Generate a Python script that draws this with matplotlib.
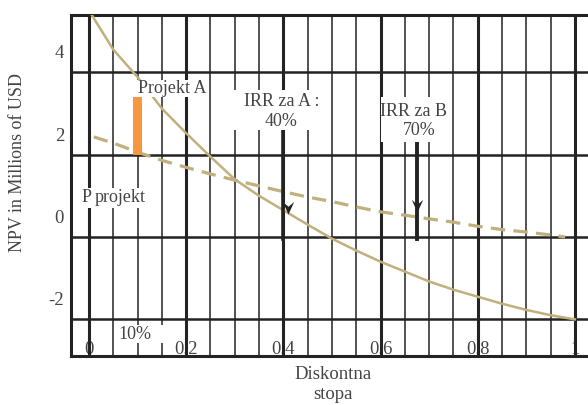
import numpy as np
import matplotlib
matplotlib.use("Agg")
import matplotlib.pyplot as plt
from matplotlib.patches import Rectangle
from matplotlib.path import Path

# Discount rate grid and NPV profiles (millions of USD)
rates = [0.0, 0.05, 0.10, 0.15, 0.20, 0.25, 0.30, 0.35, 0.40, 0.45, 0.50,
         0.55, 0.60, 0.65, 0.70, 0.75, 0.80, 0.85, 0.90, 0.95, 1.0]
npv_a = [5.0, 4.05, 3.38, 2.62, 2.02, 1.45, 0.90, 0.50, 0.15, -0.20, -0.54,
         -0.83, -1.10, -1.34, -1.58, -1.78, -1.95, -2.12, -2.27, -2.40, -2.50]
rates_b = [0.01, 0.05, 0.10, 0.15, 0.20, 0.25, 0.30, 0.35, 0.40, 0.45, 0.50,
           0.55, 0.60, 0.65, 0.70, 0.75, 0.80, 0.85, 0.90, 0.95, 0.98]
npv_b = [1.93, 1.78, 1.56, 1.36, 1.19, 1.03, 0.88, 0.74, 0.60, 0.47, 0.36,
         0.23, 0.11, 0.03, -0.06, -0.14, -0.24, -0.32, -0.38, -0.45, -0.50]

# Marker at 10% discount rate
bar_rate = 0.10
bar_low, bar_high = 1.5, 2.9

# IRR markers: (rate, NPV where the arrow tip sits)
irr_a = 0.40
irr_a_tip = 0.06
irr_b = 0.675
irr_b_tip = 0.10

x_ticks = [0, 0.2, 0.4, 0.6, 0.8, 1]
x_tick_labels = ["0", "0.2", "0.4", "0.6", "0.8", "1"]
y_ticks = [4, 2, 0, -2]
y_tick_labels = ["4", "2", "0", "-2"]

SERIF = ["Liberation Serif", "DejaVu Serif"]
TEXT = "#444444"
GRID = "#232323"
CURVE = "#bfb07e"
ORANGE = "#f59640"
FS = 13

plt.rcParams["font.family"] = SERIF

fig = plt.figure(figsize=(5.88, 4.05), dpi=100)
ax = fig.add_axes([71 / 588, 49 / 405, 517 / 588, 341 / 405])
ax.set_xlim(-0.037, 1.027)
ax.set_ylim(-3.39, 4.89)

# Frame: left, top and bottom only
for side in ("left", "top", "bottom"):
    ax.spines[side].set_linewidth(2.2)
    ax.spines[side].set_color(GRID)
ax.spines["right"].set_visible(False)

# Grid: vertical lines every 0.05, heavier every 0.2; horizontal between ticks
for i in range(21):
    xv = i * 0.05
    heavy = i % 4 == 0
    ax.axvline(xv, color=GRID, lw=2.2 if heavy else 1.1, zorder=2)
for yh in (3.5, 1.5, -0.5, -2.5):
    ax.axhline(yh, color=GRID, lw=1.8, zorder=2)

# Ticks
ax.set_axisbelow(True)
ax.set_xticks(x_ticks, x_tick_labels)
ax.set_yticks(y_ticks, y_tick_labels)
ax.tick_params(axis="x", length=0, pad=-11, labelsize=FS + 0.5, labelcolor=TEXT)
ax.tick_params(axis="y", length=0, pad=5, labelsize=FS + 0.5, labelcolor=TEXT)

# NPV profiles
ax.plot(rates, npv_a, color=CURVE, lw=1.8, zorder=3)
ax.plot(rates_b, npv_b, color=CURVE, lw=2.3, ls=(0, (4.5, 2.6)), zorder=3)

# Orange bar at the 10% rate
ax.bar([bar_rate], [bar_high - bar_low], bottom=bar_low, width=0.018,
       color=ORANGE, zorder=4)

# IRR arrows
arrow = Path([(0, 0), (-0.45, 1.0), (0, 0.62), (0.45, 1.0), (0, 0)],
             [Path.MOVETO, Path.LINETO, Path.LINETO, Path.LINETO, Path.CLOSEPOLY])
ax.plot([irr_a, irr_a], [-0.55, 2.1], color=GRID, lw=2.6, zorder=5)
ax.plot([irr_a + 0.009], [irr_a_tip], marker=arrow, ms=18, color=GRID,
        mew=0, ls="none", zorder=6)
ax.plot([irr_b, irr_b], [-0.55, 1.81], color=GRID, lw=2.8, zorder=5)
ax.plot([irr_b], [irr_b_tip], marker=arrow, ms=18, color=GRID,
        mew=0, ls="none", zorder=6)


def box(x0, x1, y0, y1):
    ax.add_patch(Rectangle((x0, y0), x1 - x0, y1 - y0, facecolor="white",
                           edgecolor="none", zorder=7))


# Label boxes
box(0.093, 0.243, 2.90, 3.32)
ax.text(0.101, 3.10, "Projekt A", fontsize=FS, color=TEXT, ha="left",
        va="center", zorder=8)

box(0.296, 0.486, 2.10, 3.07)
ax.text(0.396, 2.80, "IRR za A :", fontsize=FS, color=TEXT, ha="center",
        va="center", zorder=8)
ax.text(0.396, 2.31, "40%", fontsize=FS, color=TEXT, ha="center",
        va="center", zorder=8)

box(0.602, 0.746, 1.81, 2.90)
ax.text(0.667, 2.55, "IRR za B", fontsize=FS, color=TEXT, ha="center",
        va="center", zorder=8)
ax.text(0.680, 2.08, "70%", fontsize=FS, color=TEXT, ha="center",
        va="center", zorder=8)

box(-0.023, 0.008, 0.21, 0.69)
ax.text(-0.016, 0.45, "P", fontsize=FS, color=TEXT, ha="left",
        va="center", zorder=8)
box(0.008, 0.130, 0.21, 0.69)
ax.text(0.011, 0.45, "projekt", fontsize=FS, color=TEXT, ha="left",
        va="center", zorder=9)

box(0.053, 0.167, -3.07, -2.63)
ax.text(0.060, -2.86, "10%", fontsize=FS, color=TEXT, ha="left",
        va="center", zorder=8)

# Axis titles
fig.text(18 / 588, 1 - 162 / 405, "NPV in Millions of USD", rotation=90,
         fontsize=FS, color=TEXT, ha="center", va="center")
fig.text(333 / 588, 1 - 366 / 405, "Diskontna\nstopa", fontsize=FS + 0.5,
         color=TEXT, ha="center", va="top", linespacing=1.2)

fig.savefig("out.png", dpi=100)
